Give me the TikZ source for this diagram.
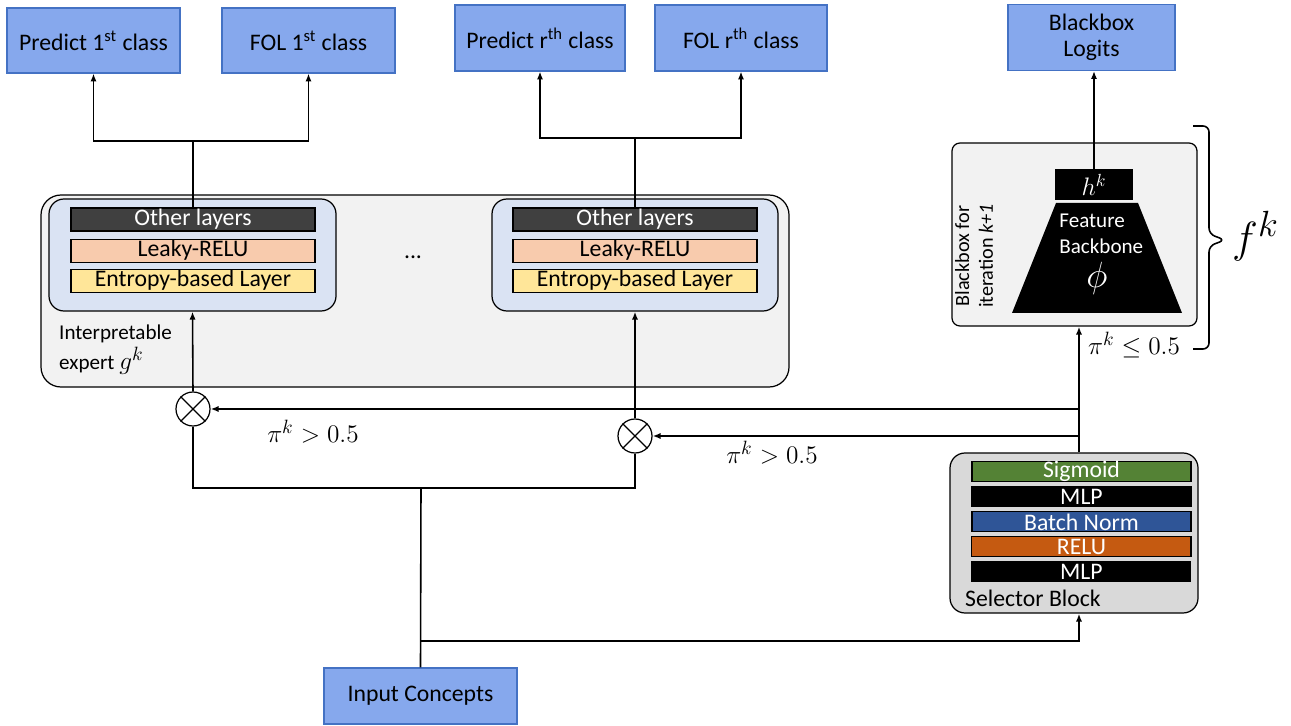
\documentclass[tikz,border=0pt]{standalone}
\usepackage{fontspec}
\setmainfont{Carlito}
\usepackage{amsmath}
\usepackage{amssymb}
\usetikzlibrary{arrows.meta,positioning}

\definecolor{topblue}{RGB}{134,168,237}
\definecolor{topedge}{RGB}{68,114,196}
\definecolor{expgray}{RGB}{242,242,242}
\definecolor{innblue}{RGB}{218,227,243}
\definecolor{othgray}{RGB}{64,64,64}
\definecolor{leaky}{RGB}{248,203,173}
\definecolor{entropy}{RGB}{255,230,153}
\definecolor{selgray}{RGB}{217,217,217}
\definecolor{siggreen}{RGB}{84,130,53}
\definecolor{bnblue}{RGB}{47,85,151}
\definecolor{reluorg}{RGB}{197,90,17}

\tikzset{
  outbox/.style={draw=topedge, fill=topblue, line width=0.6pt, align=center,
    minimum height=1.3cm},
  layerbar/.style={draw=black, line width=0.6pt, inner sep=0pt,
    minimum width=4.88cm, minimum height=0.46cm},
  selbar/.style={draw=black, line width=0.6pt, inner sep=0pt, text=white,
    minimum width=4.38cm, minimum height=0.4cm},
  mult/.style={draw, circle, line width=0.7pt, inner sep=0pt, minimum size=0.68cm},
  conn/.style={-{Latex[length=4.5pt,width=3.5pt]}, line width=0.9pt},
  wire/.style={line width=0.9pt},
  bigmath/.style={font=\fontsize{15}{18}\selectfont}
}

\begin{document}
\begin{tikzpicture}[scale=0.2, font=\fontsize{13.5}{16}\selectfont]
\useasboundingbox (0,0) rectangle (129.1,-72.6);

% outputs on top
\node[outbox, minimum width=3.46cm] (pred1) at (9.35,-4.05) {Predict 1\textsuperscript{st} class};
\node[outbox, minimum width=3.46cm] (fol1) at (30.85,-4.05) {FOL 1\textsuperscript{st} class};
\node[outbox, minimum width=3.4cm, minimum height=1.32cm] (predr) at (54.0,-3.8) {Predict r\textsuperscript{th} class};
\node[outbox, minimum width=3.44cm, minimum height=1.32cm] (folr) at (74.1,-3.8) {FOL r\textsuperscript{th} class};
\node[outbox, minimum width=3.34cm, minimum height=1.32cm, font=\fontsize{13.5}{15}\selectfont] (logits) at (109.15,-3.75) {Blackbox\\Logits};

% interpretable expert
\node[draw, fill=expgray, rounded corners=0.4cm, line width=0.7pt,
  minimum width=14.96cm, minimum height=3.84cm] (exp) at (41.5,-29.1) {};
\node[draw, fill=innblue, rounded corners=0.3cm, line width=0.7pt,
  minimum width=5.74cm, minimum height=2.24cm] (inner1) at (19.25,-25.5) {};
\node[draw, fill=innblue, rounded corners=0.3cm, line width=0.7pt,
  minimum width=5.72cm, minimum height=2.24cm] (inner2) at (63.5,-25.5) {};

\node[layerbar, fill=othgray, text=white] (oth1) at (19.3,-21.95) {Other layers};
\node[layerbar, fill=leaky, below=0.14cm of oth1] (leaky1) {Leaky-RELU};
\node[layerbar, fill=entropy, below=0.12cm of leaky1] (ent1) {Entropy-based Layer};

\node[layerbar, fill=othgray, text=white] (oth2) at (63.5,-21.95) {Other layers};
\node[layerbar, fill=leaky, below=0.14cm of oth2] (leaky2) {Leaky-RELU};
\node[layerbar, fill=entropy, below=0.12cm of leaky2] (ent2) {Entropy-based Layer};

\node (dots) at (41.3,-25.7) {...};
\node[anchor=west, align=left, font=\fontsize{12}{17}\selectfont] (explabel) at (5.3,-35.0)
  {Interpretable\\expert {\fontsize{15}{15}\selectfont$g^k$}};

% gates
\node[mult] (m1) at (19.3,-40.9) {};
\node[mult] (m2) at (63.5,-43.6) {};
\draw[line width=0.7pt] (m1.north east) -- (m1.south west) (m1.north west) -- (m1.south east);
\draw[line width=0.7pt] (m2.north east) -- (m2.south west) (m2.north west) -- (m2.south east);
\node[bigmath] (pi1) at (31.3,-43.2) {$\pi^k > 0.5$};
\node[bigmath] (pi2) at (77.2,-45.3) {$\pi^k > 0.5$};

% blackbox
\node[draw, fill=expgray, rounded corners=0.16cm, line width=0.7pt,
  minimum width=4.9cm, minimum height=3.66cm] (bb) at (107.45,-23.45) {};
\fill (101.2,-31.3) -- (118.2,-31.3) -- (113.8,-20.3) -- (105.6,-20.3) -- cycle;
\node[fill=black, text=white, minimum width=1.56cm, minimum height=0.62cm, inner sep=0pt,
  font=\fontsize{14}{14}\selectfont] (hk) at (109.4,-18.45) {$h^k$};
\node[text=white, align=left, anchor=west, inner sep=0pt, font=\fontsize{12}{14.5}\selectfont] (feat) at (105.9,-23.4) {Feature\\Backbone};
\node[text=white, font=\fontsize{21}{21}\selectfont] (phi) at (109.7,-27.8) {$\phi$};
\node[rotate=90, align=center, font=\fontsize{11.5}{13.5}\selectfont] (bblabel) at (97.4,-25.6)
  {Blackbox for\\iteration \textit{k+1}};
\node[bigmath] (pi3) at (113.4,-34.5) {$\pi^k \leq 0.5$};
% brace round the blackbox
\draw[line width=0.9pt, rounded corners=0.12cm]
  (119.3,-12.6) -- (120.9,-12.6) -- (120.9,-23.4) -- (122.5,-24.0)
  -- (120.9,-24.6) -- (120.9,-34.9) -- (119.3,-34.9);
\node[anchor=west, font=\fontsize{30}{30}\selectfont] (fk) at (122.6,-23.6) {$f^k$};

% selector
\node[draw, fill=selgray, rounded corners=0.3cm, line width=0.7pt,
  minimum width=4.96cm, minimum height=3.2cm] (sel) at (107.4,-53.3) {};
\node[selbar, fill=siggreen] (sig) at (108.15,-47.15) {Sigmoid};
\node[selbar, fill=black, below=0.08cm of sig] (mlp2) {MLP};
\node[selbar, fill=bnblue, below=0.08cm of mlp2] (bn) {Batch Norm};
\node[selbar, fill=reluorg, below=0.08cm of bn] (relu) {RELU};
\node[selbar, fill=black, below=0.08cm of relu] (mlp1) {MLP};
\node[anchor=west] (sellabel) at (95.9,-59.8) {Selector Block};

% input
\node[outbox, minimum width=3.86cm, minimum height=1.12cm] (input) at (42.05,-69.6) {Input Concepts};

% connectors
\coordinate (j1) at (19.3,-14.1);
\coordinate (j2) at (63.5,-13.8);
\draw[wire] (oth1.north) -- (j1);
\draw[conn] (j1) -| (pred1.south);
\draw[conn] (j1) -| (fol1.south);
\draw[wire] (oth2.north) -- (j2);
\draw[conn] (j2) -| (predr.south);
\draw[conn] (j2) -| (folr.south);

\draw[conn] (m1.north) -- (inner1.south);
\draw[conn] (m2.north) -- (inner2.south);

\coordinate (jb) at (42.1,-48.8);
\coordinate (jc) at (42.1,-64.1);
\draw[wire] (m1.south) |- (jb) -| (m2.south);
\draw[wire] (input.north) -- (jb);
\coordinate (sw) at (107.9,-40.9);
\coordinate (sw2) at (107.9,-43.6);
\draw[conn] (jc) -| (sel.south -| sw);
\draw[conn] (sel.north -| sw) -- (bb.south -| sw);
\draw[conn] (sw) -- (m1.east);
\draw[conn] (sw2) -- (m2.east);
\draw[conn] (hk.north) -- (hk.north |- logits.south);
\end{tikzpicture}
\end{document}
